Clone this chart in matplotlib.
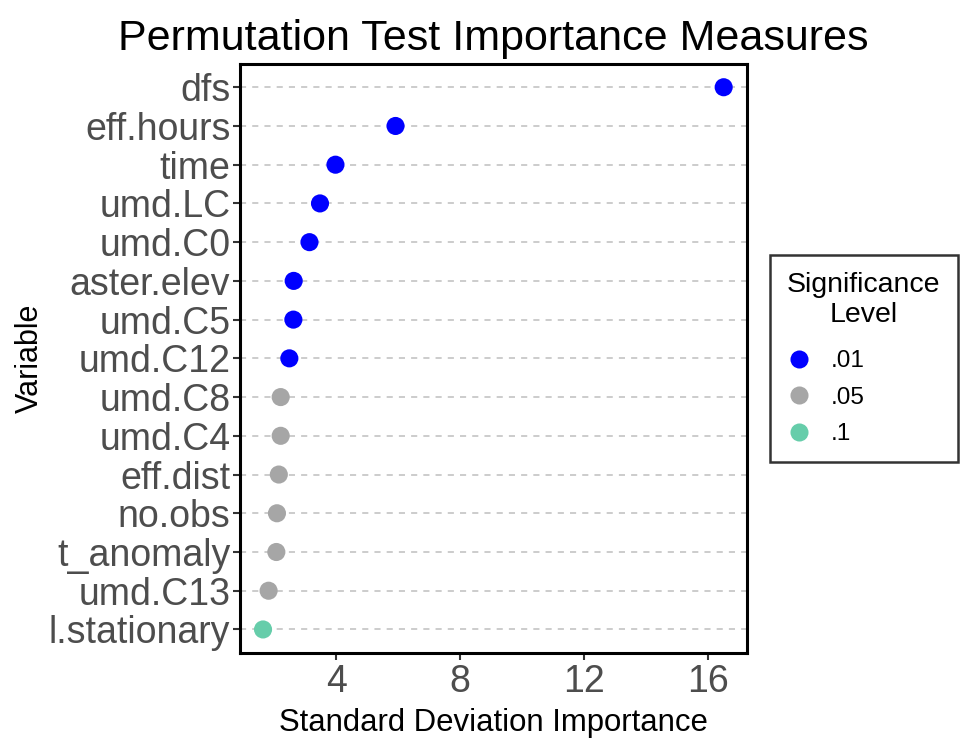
import matplotlib
matplotlib.use("Agg")
import matplotlib.pyplot as plt
from matplotlib.lines import Line2D

plt.rcParams['font.family'] = ['Liberation Sans', 'DejaVu Sans']

variables = ["dfs", "eff.hours", "time", "umd.LC", "umd.C0", "aster.elev", "umd.C5",
             "umd.C12", "umd.C8", "umd.C4", "eff.dist", "no.obs", "t_anomaly",
             "umd.C13", "l.stationary"]
importance = [16.52, 5.92, 3.98, 3.48, 3.14, 2.63, 2.62, 2.49, 2.21, 2.21, 2.15,
              2.09, 2.07, 1.82, 1.64]
significance = [".01", ".01", ".01", ".01", ".01", ".01", ".01", ".01", ".05", ".05",
                ".05", ".05", ".05", ".05", ".1"]
levels = [".01", ".05", ".1"]
level_colors = {".01": "#0000FF", ".05": "#A6A6A6", ".1": "#66CDAA"}
xticks = [4, 8, 12, 16]

W, H = 969, 745
fig = plt.figure(figsize=(W / 100, H / 100), dpi=100)
left, right, top, bottom = 240, 746.7, 64, 652.7
ax = fig.add_axes([left / W, 1 - bottom / H, (right - left) / W, (bottom - top) / H])

n = len(variables)
ypos = list(range(n, 0, -1))
ax.grid(axis='y', color='#BEBEBE', linestyle=(0, (4, 4)), linewidth=1.1)
ax.set_axisbelow(True)
ax.scatter(importance, ypos, c=[level_colors[s] for s in significance], s=170,
           edgecolors='none', zorder=3)

xmin, xmax = min(importance), max(importance)
rng = xmax - xmin
ax.set_xlim(xmin - 0.05 * rng, xmax + 0.05 * rng)
ax.set_ylim(0.4, n + 0.6)
ax.set_yticks(ypos)
ax.set_yticklabels(variables)
ax.set_xticks(xticks)
ax.set_xticklabels([str(t) for t in xticks])
ax.tick_params(axis='y', labelsize=27, colors='#333333', labelcolor='#4D4D4D',
               length=5, width=1.5, pad=2)
ax.tick_params(axis='x', labelsize=27, colors='#333333', labelcolor='#4D4D4D',
               length=5, width=1.5, pad=3)
for sp in ax.spines.values():
    sp.set_linewidth(2.2)
    sp.set_color('black')

ax.set_xlabel("Standard Deviation Importance", fontsize=22.4, labelpad=6)
ax.set_ylabel("Variable", fontsize=22, labelpad=3)
ax.set_title("Permutation Test Importance Measures", fontsize=31, pad=10)

handles = [Line2D([0], [0], marker='o', linestyle='none', markersize=13,
                  markerfacecolor=level_colors[l], markeredgecolor='none') for l in levels]
leg = fig.legend(handles, levels, title="Significance\nLevel",
                 loc='upper left', bbox_to_anchor=(770 / W, 1 - 255 / H),
                 fontsize=17.5, title_fontsize=20.5, frameon=True, fancybox=False,
                 edgecolor='black', borderpad=0.7, labelspacing=0.6,
                 handlelength=1.0, handletextpad=0.8, borderaxespad=0,
                 alignment='left')
leg.get_frame().set_linewidth(1.8)
leg.get_title().set_multialignment('center')
leg._legend_box.sep = 0.6 * 17.5 + 5.5

fig.savefig("out.png", dpi=100)
